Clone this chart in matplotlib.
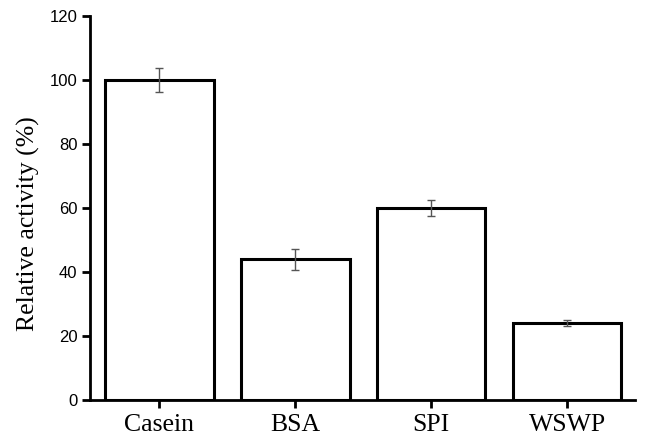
import matplotlib
matplotlib.use("Agg")
import matplotlib.pyplot as plt

# ── data ───────────────────────────────────────────────────────────────────
substrates = ["Casein", "BSA", "SPI", "WSWP"]
activity   = [100.0, 44.0, 60.0, 24.0]
errors     = [3.8, 3.3, 2.4, 1.0]
yticks     = [0, 20, 40, 60, 80, 100, 120]

# ── figure ─────────────────────────────────────────────────────────────────
fig = plt.figure(figsize=(6.45, 4.41), dpi=100)
ax = fig.add_axes([0.1395, 0.093, 0.845, 0.8707])

x = range(len(substrates))
ax.bar(x, activity, width=0.8, color="white", edgecolor="black", linewidth=2.2, zorder=2)
ax.errorbar(x, activity, yerr=errors, fmt="none", ecolor="#555555",
            elinewidth=1.0, capsize=3, capthick=1.0, zorder=3)

ax.set_xlim(-0.51, 3.5)
ax.set_ylim(0, 120)
ax.set_yticks(yticks)
ax.set_xticks(list(x))
ax.set_xticklabels(substrates, fontfamily="Liberation Serif", fontsize=18.5)
for lab in ax.get_yticklabels():
    lab.set_fontfamily("Liberation Sans")
    lab.set_fontsize(12)

ax.set_ylabel("Relative activity (%)", fontfamily="Liberation Serif", fontsize=18.5)
ax.yaxis.set_label_coords(-0.092, 0.458)

for side in ("top", "right"):
    ax.spines[side].set_visible(False)
for side in ("left", "bottom"):
    ax.spines[side].set_linewidth(2)
ax.tick_params(axis="both", direction="out", width=2, length=6)
ax.tick_params(axis="x", pad=4)
ax.tick_params(axis="y", pad=3)

fig.savefig("out.png", dpi=100)
